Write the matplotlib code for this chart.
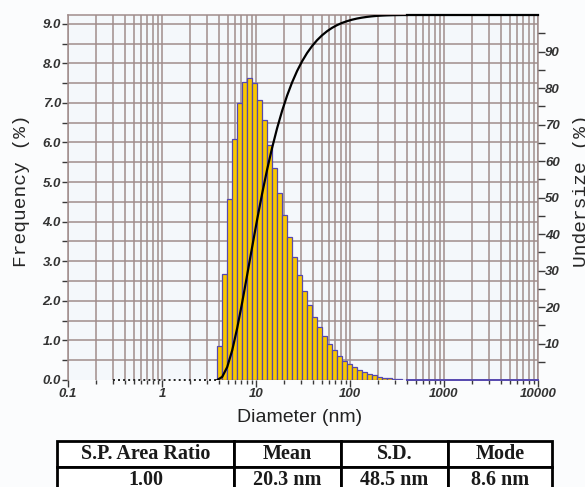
import numpy as np
import matplotlib
matplotlib.use("Agg")
import matplotlib.pyplot as plt
from matplotlib.ticker import FixedLocator, FixedFormatter, NullFormatter

# ---- particle size distribution (frequency per channel, %) ----
freq = [0.86, 2.69, 4.56, 6.08, 7.00, 7.53, 7.62, 7.51, 7.07, 6.57,
        5.93, 5.35, 4.73, 4.17, 3.60, 3.11, 2.65, 2.26, 1.90, 1.60,
        1.34, 1.11, 0.92, 0.75, 0.60, 0.48, 0.40, 0.32, 0.25, 0.20,
        0.16, 0.12, 0.08, 0.06, 0.04, 0.03, 0.02, 0.01]
first_edge = 3.87          # nm, lower edge of first non-zero channel
channel_ratio = 1.13       # geometric width of one channel
range_min, range_max = 0.3, 10000   # measuring range (nm)

x_ticks = [0.1, 1, 10, 100, 1000, 10000]
x_labels = ["0.1", "1", "10", "100", "1000", "10000"]
freq_ticks = np.arange(0, 10, 1.0)
under_ticks = np.arange(10, 100, 10)

table_head = ["S.P. Area Ratio", "Mean", "S.D.", "Mode"]
table_vals = ["1.00", "20.3 nm", "48.5 nm", "8.6 nm"]

# colours
grid_c = "#a08d8c"
bar_c = "#f9c800"
edge_c = "#5548ae"
tick_c = "#3a3a3a"

freq = np.array(freq)
edges = first_edge * channel_ratio ** np.arange(len(freq) + 1)
cum = np.concatenate([[0], np.cumsum(freq)]) / freq.sum() * 100

fig = plt.figure(figsize=(5.85, 4.87), dpi=100, facecolor="#fbfcfd")
ax = fig.add_axes([68/585, 1 - 380/487, 470/585, 365/487])
ax.set_facecolor("#f4f8fb")
ax.set_xscale("log")
ax.set_xlim(0.1, range_max)
ax.set_ylim(0, 9.22)

# log grid: every 1..9 of each decade, horizontal every 0.5 %
vgrid = [m * 10.0 ** e for e in range(-1, 4) for m in range(1, 10)] + [range_max]
for v in vgrid:
    ax.axvline(v, color=grid_c, lw=1.1, zorder=0)
for h in np.arange(0.5, 9.01, 0.5):
    ax.axhline(h, color=grid_c, lw=1.1, zorder=0)

for s in ["left", "right", "top"]:
    ax.spines[s].set_color(grid_c)
    ax.spines[s].set_linewidth(1.1)
ax.spines["bottom"].set_visible(False)

# histogram bars
ax.bar(edges[:-1], freq, width=np.diff(edges), align="edge",
       color=bar_c, edgecolor=edge_c, linewidth=0.9, zorder=2)
ax.plot([range_min, edges[0]], [0, 0], ls=(0, (1, 1.6)), color="#222222",
        lw=1.4, zorder=3, clip_on=False)
ax.plot([edges[-1], range_max], [0, 0], color=edge_c, lw=1.4, zorder=3,
        clip_on=False)

# axis ticks
ax.xaxis.set_major_locator(FixedLocator(x_ticks))
ax.xaxis.set_major_formatter(FixedFormatter(x_labels))
ax.xaxis.set_minor_locator(FixedLocator([m * 10.0 ** e for e in range(-1, 4)
                                         for m in range(2, 10)]))
ax.xaxis.set_minor_formatter(NullFormatter())
ax.tick_params(axis="x", which="major", direction="out", length=5, width=1,
               color=tick_c, pad=1)
ax.tick_params(axis="x", which="minor", direction="out", length=3, width=1,
               color=tick_c)

ax.yaxis.set_major_locator(FixedLocator(freq_ticks))
ax.yaxis.set_major_formatter(FixedFormatter(["%.1f" % t for t in freq_ticks]))
ax.yaxis.set_minor_locator(FixedLocator(np.arange(0.5, 9, 1.0)))
ax.tick_params(axis="y", which="both", direction="out", length=4, width=1,
               color=tick_c, pad=1)

tick_font = dict(family="Liberation Sans", weight="bold", style="italic",
                 size=9.5)
for lab in ax.get_xticklabels() + ax.get_yticklabels():
    lab.set(color="#333333", **tick_font)

# cumulative undersize curve
ax2 = ax.twinx()
ax2.set_ylim(0, 100)
ax2.plot(edges, cum, color="black", lw=1.6, zorder=4)
ax2.plot([edges[-1], range_max], [cum[-1], cum[-1]], color="black", lw=1.6,
         zorder=4, clip_on=False)
ax2.yaxis.set_major_locator(FixedLocator(under_ticks))
ax2.yaxis.set_major_formatter(FixedFormatter(["%d" % t for t in under_ticks]))
ax2.yaxis.set_minor_locator(FixedLocator(np.arange(0, 100, 10) + 5))
ax2.tick_params(axis="y", which="both", direction="out", length=5, width=1,
                color=tick_c, pad=0)
for s in ax2.spines.values():
    s.set_visible(False)
for lab in ax2.get_yticklabels():
    lab.set(color="#333333", **tick_font)

# axis titles
mono = dict(family="Liberation Mono", size=14, color="#262626")
fig.text(22/585, 1 - 191/487, "Frequency (%)", rotation=90,
         ha="center", va="center", **mono)
fig.text(582/585, 1 - 191/487, "Undersize (%)", rotation=90,
         ha="center", va="center", **mono)
fig.text(300/585, 1 - 418/487, "Diameter (nm)", ha="center", va="center",
         family="Liberation Sans", size=14, color="#222222")

# summary table
tax = fig.add_axes([57/585, 1 - 493/487, 495/585, 52/487])
tax.axis("off")
tbl = tax.table(cellText=[table_head, table_vals], cellLoc="center",
                colWidths=[177, 107, 107, 104], bbox=[0, 0, 1, 1])
tbl.auto_set_font_size(False)
for cell in tbl.get_celld().values():
    cell.set_linewidth(2)
    cell.set_edgecolor("black")
    cell.set_facecolor("white")
    cell.get_text().set(family="Liberation Serif", weight="bold", size=14.5,
                        color="#1a1a1a")

fig.savefig("out.png", dpi=100, facecolor=fig.get_facecolor())
